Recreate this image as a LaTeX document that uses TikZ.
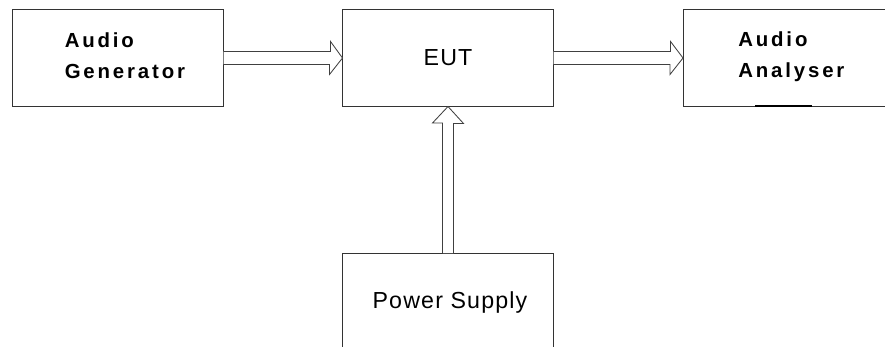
\documentclass[tikz,border=0pt]{standalone}
\usepackage{fontspec}
\setmainfont{Liberation Sans}
\usepackage{tikz}
\usetikzlibrary{calc}

\tikzset{
  box/.style={draw=black!80, line width=0.7pt, minimum width=5.25cm, minimum height=2.4cm, inner sep=0pt},
  pipe/.style={draw=black!75, line width=0.6pt, fill=white, line join=miter},
  boldlbl/.style={font=\fontsize{14.5}{22}\selectfont\bfseries\addfontfeatures{LetterSpace=14}, align=left, inner sep=0pt},
  lbl/.style={font=\fontsize{16.5}{19}\selectfont\addfontfeatures{LetterSpace=5}, inner sep=0pt}
}

\begin{document}
\begin{tikzpicture}[x=0.025cm, y=-0.025cm]
    \useasboundingbox (0,0) rectangle (885,347);
    \clip (0,0) rectangle (885,347);
    % Boxes
    \node[box] (gen) at (118,58) {};
    \node[box] (eut) at (448,58) {};
    \node[box, minimum width=7cm, anchor=west] (ana) at (683,58) {};
    \node[box, minimum height=4cm, anchor=north] (ps) at (448,253) {};
    % labels
    \node[boldlbl, anchor=west] (genlbl) at ($(gen.west)+(52,-2)$) {Audio\\Generator};
    \node[lbl] (eutlbl) at (eut.center) {EUT};
    \node[boldlbl, anchor=west] (analbl) at ($(ana.west)+(55,-1)$) {Audio\\Analyser};
    \node[lbl] (pslbl) at (450,302) {Power Supply};
    % mark under the analyser
    \draw[line width=1.3pt, black] (755,106) -- (812,106);
    % hollow arrows
    \draw[pipe] ($(gen.east)+(0,-6.5)$) -- ++(107,0) -- ++(0,-10) -- (eut.west)
      -- ($(eut.west)+(-13,16.5)$) -- ++(0,-10) -- ($(gen.east)+(0,6.5)$);
    \draw[pipe] ($(eut.east)+(0,-6.5)$) -- ++(117,0) -- ++(0,-10) -- (ana.west)
      -- ($(ana.west)+(-13,16.5)$) -- ++(0,-10) -- ($(eut.east)+(0,6.5)$);
    \draw[pipe] ($(ps.north)+(-5.5,0)$) -- ++(0,-130) -- ++(-10,0) -- (eut.south)
      -- ($(eut.south)+(15.5,17)$) -- ++(-10,0) -- ($(ps.north)+(5.5,0)$);
\end{tikzpicture}
\end{document}
